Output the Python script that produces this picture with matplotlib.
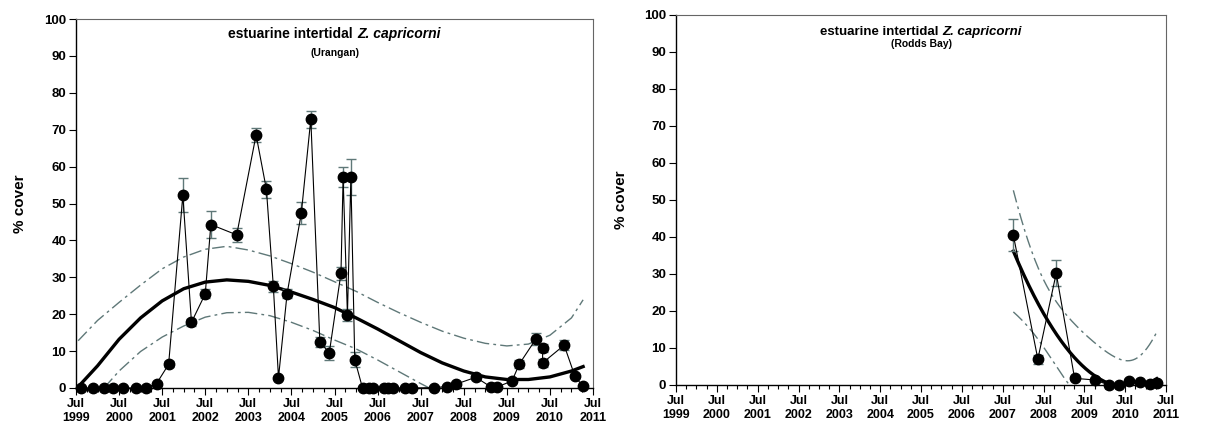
import numpy as np
import matplotlib
matplotlib.use('Agg')
import matplotlib.pyplot as plt
from matplotlib.ticker import FixedLocator, MultipleLocator

plt.rcParams['font.family'] = ['Liberation Sans', 'DejaVu Sans']

# Urangan (left panel) - decimal years, % cover, error
urangan_x = [1999.62, 1999.90, 2000.16, 2000.35, 2000.60, 2000.89, 2001.12, 2001.37, 2001.65,
             2001.98, 2002.18, 2002.50, 2002.63, 2003.23, 2003.68, 2003.92, 2004.08, 2004.20,
             2004.40, 2004.73, 2004.95, 2005.16, 2005.38, 2005.65, 2005.70, 2005.80, 2005.88,
             2005.97, 2006.15, 2006.30, 2006.40, 2006.65, 2006.75, 2006.86, 2007.13, 2007.29,
             2007.82, 2008.11, 2008.31, 2008.78, 2009.14, 2009.26, 2009.62, 2009.79, 2010.17,
             2010.33, 2010.33, 2010.83, 2011.08, 2011.26]
urangan_y = [0, 0, 0, 0, 0, 0, 0, 1.2, 6.4,
             52.3, 17.8, 25.5, 44.3, 41.5, 68.6, 53.8, 27.6, 2.8,
             25.6, 47.4, 72.9, 12.4, 9.6, 31.1, 57.1, 19.8, 57.1,
             7.7, 0, 0, 0, 0, 0, 0, 0, 0,
             0.1, 0.4, 1.0, 2.9, 0.2, 0.2, 1.9, 6.5, 13.2,
             10.9, 6.8, 11.6, 3.2, 0.5]
urangan_err = [0.2, 0.2, 0.2, 0.2, 0.2, 0.2, 0.2, 0.4, 0.8,
               4.5, 0.9, 1.2, 3.7, 1.8, 1.8, 2.2, 1.5, 0.5,
               1.3, 2.9, 2.3, 1.3, 1.9, 1.8, 2.7, 1.7, 4.9,
               2.0, 0.2, 0.2, 0.2, 0.2, 0.2, 0.2, 0.2, 0.2,
               0.2, 0.3, 0.4, 0.8, 0.2, 0.2, 0.5, 1.1, 1.6,
               1.1, 1.1, 1.3, 0.6, 0.3]

# Urangan trend line and confidence band
trend_x = [1999.55, 2000.0, 2000.5, 2001.0, 2001.5, 2002.0, 2002.5, 2003.0, 2003.5, 2004.0,
           2004.5, 2005.0, 2005.5, 2006.0, 2006.5, 2007.0, 2007.5, 2008.0, 2008.5, 2009.0,
           2009.5, 2010.0, 2010.5, 2011.0, 2011.27]
trend_fit = [0.3, 6.0, 13.2, 19.0, 23.6, 26.9, 28.7, 29.3, 28.9, 27.8,
             26.0, 24.0, 21.8, 19.0, 16.0, 12.8, 9.6, 6.8, 4.6, 3.0,
             2.3, 2.3, 3.0, 4.6, 5.8]
trend_upper = [12.8, 18.3, 23.2, 27.9, 32.3, 35.5, 37.6, 38.4, 37.4, 35.8,
               33.7, 31.4, 28.8, 26.2, 23.2, 20.4, 17.8, 15.4, 13.5, 12.1,
               11.4, 11.9, 14.3, 19.0, 23.9]
lower_x = [2000.15, 2000.5, 2001.0, 2001.5, 2002.0, 2002.5, 2003.0, 2003.5, 2004.0,
           2004.5, 2005.0, 2005.5, 2006.0, 2006.5, 2007.0, 2007.5, 2007.7]
trend_lower = [0, 4.6, 9.9, 13.8, 16.8, 19.2, 20.4, 20.5, 19.6,
               17.8, 15.6, 13.0, 10.6, 7.6, 4.4, 1.2, 0]

# Rodds Bay (right panel)
rodds_x = [2007.76, 2008.36, 2008.81, 2009.26, 2009.76, 2010.10, 2010.34, 2010.60, 2010.86, 2011.11, 2011.27]
rodds_y = [40.5, 7.0, 30.2, 1.8, 1.35, 0, 0, 1.2, 0.8, 0.2, 0.6]
rodds_err = [4.4, 1.2, 3.5, 0.4, 0.3, 0.1, 0.1, 0.3, 0.3, 0.1, 0.2]

years = list(range(1999, 2012))
tick_labels = ['Jul\n%d' % y for y in years]

band_col = '#5f7878'
band_dash = [9, 3, 2, 3]


def poly_fit(x, y, deg, t):
    # least squares polynomial with 95% confidence band of the mean
    x = np.asarray(x)
    y = np.asarray(y)
    X = np.vander(x - x.mean(), deg + 1)
    beta, *_ = np.linalg.lstsq(X, y, rcond=None)
    resid = y - X @ beta
    s2 = resid @ resid / (len(x) - deg - 1)
    cov = np.linalg.inv(X.T @ X)
    xs = np.linspace(x.min(), x.max(), 300)
    Xs = np.vander(xs - x.mean(), deg + 1)
    fit = Xs @ beta
    se = np.sqrt(s2 * np.einsum('ij,jk,ik->i', Xs, cov, Xs))
    return xs, fit, fit - t * se, fit + t * se


def draw_title(fig, ax, site, y1, y2, size):
    r = fig.canvas.get_renderer()
    t1 = ax.text(0.5, y1, 'estuarine intertidal', transform=ax.transAxes, ha='left',
                 va='center', fontsize=size, fontweight='bold')
    t2 = ax.annotate('Z. capricorni', xy=(1, 0), xycoords=t1, xytext=(3, 0),
                     textcoords='offset points', ha='left', va='bottom',
                     fontsize=size, fontweight='bold', fontstyle='italic')
    w = t1.get_window_extent(r).width + 3 * fig.dpi / 72 + t2.get_window_extent(r).width
    t1.set_x(0.5 - w / ax.bbox.width / 2)
    ax.text(0.5, y2, '(%s)' % site, transform=ax.transAxes, ha='center', va='center',
            fontsize=7.5, fontweight='bold')


def style_axes(ax):
    ax.set_xlim(1999.5, 2011.5)
    ax.set_ylim(0, 100)
    ax.xaxis.set_major_locator(FixedLocator([yr + 0.5 for yr in years]))
    ax.xaxis.set_minor_locator(MultipleLocator(0.25))
    ax.set_xticklabels(tick_labels, fontweight='bold', fontsize=9, linespacing=1.2)
    ax.yaxis.set_major_locator(MultipleLocator(10))
    for lab in ax.get_yticklabels():
        lab.set_fontweight('bold')
        lab.set_fontsize(9.5)
    ax.tick_params(axis='both', which='major', direction='out', length=5, width=0.8, pad=2)
    ax.tick_params(axis='x', which='minor', direction='out', length=3, width=0.8)
    ax.set_ylabel('% cover', fontsize=11, fontweight='bold', labelpad=12)
    for side in ['top', 'right']:
        ax.spines[side].set_color('#666666')
        ax.spines[side].set_linewidth(0.8)
    for side in ['left', 'bottom']:
        ax.spines[side].set_linewidth(1.0)


def draw_points(ax, x, y, err):
    ax.errorbar(x, y, yerr=err, fmt='none', ecolor=band_col, elinewidth=1.0,
                capsize=3.5, capthick=1.0, clip_on=False)
    ax.plot(x, y, color='black', lw=0.8, marker='o', markersize=7.5, clip_on=False, zorder=5)


fig = plt.figure(figsize=(12.1, 4.28), dpi=100)
ax1 = fig.add_axes([0.0628, 0.0935, 0.4273, 0.862])
ax2 = fig.add_axes([0.5587, 0.1005, 0.405, 0.8645])

# left: Urangan
ax1.plot(trend_x, trend_upper, color=band_col, lw=1.0, dashes=band_dash)
ax1.plot(lower_x, trend_lower, color=band_col, lw=1.0, dashes=band_dash)
ax1.plot(trend_x, trend_fit, color='black', lw=2.4)
draw_points(ax1, urangan_x, urangan_y, urangan_err)
style_axes(ax1)
draw_title(fig, ax1, 'Urangan', 0.959, 0.908, 10)

# right: Rodds Bay
xs, fit, lo, hi = poly_fit(rodds_x, rodds_y, 2, 2.306)
ax2.plot(xs, hi, color=band_col, lw=1.0, dashes=band_dash)
ax2.plot(xs, lo, color=band_col, lw=1.0, dashes=band_dash)
ax2.plot(xs, fit, color='black', lw=2.4)
draw_points(ax2, rodds_x, rodds_y, rodds_err)
style_axes(ax2)
draw_title(fig, ax2, 'Rodds Bay', 0.954, 0.922, 9.5)

fig.savefig('out.png', dpi=100)
